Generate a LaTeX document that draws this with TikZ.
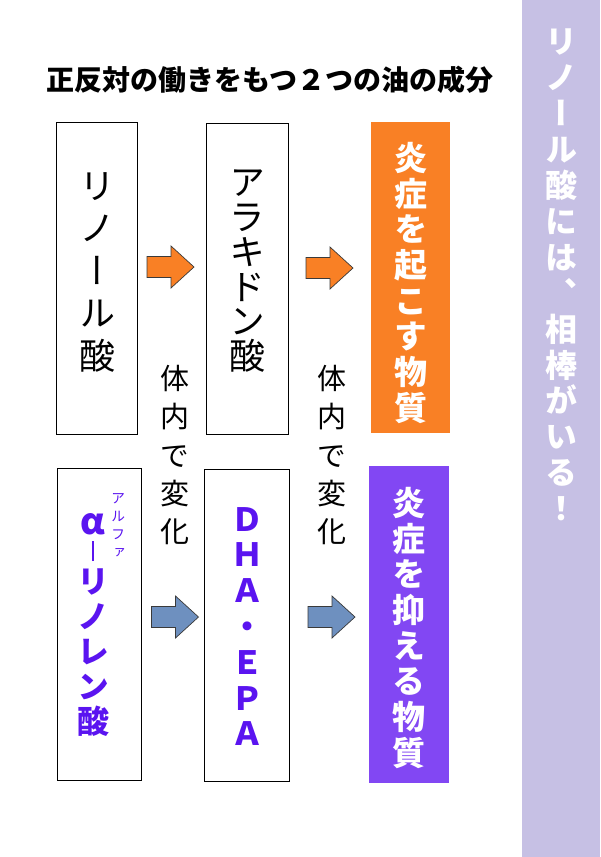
\documentclass[tikz,border=0pt]{standalone}
\usepackage{fontspec}
\newfontfamily\jp{Noto Sans CJK JP}
\newfontfamily\jpv[RawFeature=+vert]{Noto Sans CJK JP}
\definecolor{sidebar}{HTML}{C6C0E4}
\definecolor{orangefill}{HTML}{F98025}
\definecolor{purplefill}{HTML}{8247F3}
\definecolor{violettext}{HTML}{5A14F0}
\definecolor{bluefill}{HTML}{6E90BF}
\definecolor{arrowline}{HTML}{3A3A3A}
\tikzset{
  x=1pt, y=-1pt,
  box/.style={draw=black, line width=0.9pt, inner sep=0pt},
  vtext/.style={align=center, inner sep=0pt, anchor=north},
  blockarrow/.pic={\path[pic actions] (-23.5,-10.5) -- (0.5,-10.5) -- (0.5,-21) -- (23.5,0) -- (0.5,21) -- (0.5,10.5) -- (-23.5,10.5) -- cycle;},
  orangearrow/.style={fill=orangefill, draw=arrowline, line width=0.7pt},
  bluearrow/.style={fill=bluefill, draw=arrowline, line width=0.7pt}
}
\begin{document}
\begin{tikzpicture}
\useasboundingbox (0,0) rectangle (600,857);
\fill[white] (0,0) rectangle (600,857);
% sidebar
\fill[sidebar] (522,0) rectangle (600,857);
\node[vtext, text=white, font={\jpv\bfseries\fontsize{32pt}{35.9pt}\selectfont}] (side) at (561,29)
  {リ\\ノ\\ー\\ル\\酸\\に\\は\\、\\相\\棒\\が\\い\\る\\！};
% title
\node[inner sep=0pt, font={\jp\bfseries\fontsize{28pt}{30pt}\selectfont}] (title) at (270,80) {正反対の働きをもつ２つの油の成分};
% top row boxes
\node[box, minimum width=81pt, minimum height=312pt] (b1) at (97,278) {};
\node[box, minimum width=82pt, minimum height=311pt] (b2) at (247,278.5) {};
\node[fill=orangefill, inner sep=0pt, minimum width=79pt, minimum height=311pt] (b3) at (410.5,277.5) {};
% bottom row boxes
\node[box, minimum width=84pt, minimum height=312pt] (c1) at (99,624) {};
\node[box, minimum width=85pt, minimum height=312pt] (c2) at (246.5,625) {};
\node[fill=purplefill, inner sep=0pt, minimum width=80pt, minimum height=317pt] (c3) at (409,624.5) {};
% texts top
\node[vtext, font={\jpv\fontsize{36pt}{42.5pt}\selectfont}] (t1) at (97,172) {リ\\ノ\\ー\\ル\\酸};
\node[vtext, font={\jpv\fontsize{36pt}{34.7pt}\selectfont}] (t2) at (247,170) {ア\\ラ\\キ\\ド\\ン\\酸};
\node[vtext, text=white, font={\jpv\bfseries\fontsize{33pt}{35.7pt}\selectfont}] (t3) at (410.5,142) {炎\\症\\を\\起\\こ\\す\\物\\質};
% texts bottom
\node[vtext, text=violettext, font={\jpv\bfseries\fontsize{32pt}{35pt}\selectfont}] (u1) at (93,513)
  {{\fontsize{36pt}{35pt}\selectfont α}\\[-8pt]\rule{2.6pt}{20pt}\\[-3pt]リ\\ノ\\レ\\ン\\酸};
\node[vtext, text=violettext, font={\jpv\fontsize{14pt}{18pt}\selectfont}] (ruby) at (118,493) {ア\\ル\\フ\\ァ};
\node[vtext, text=violettext, font={\jpv\bfseries\fontsize{32pt}{35.8pt}\selectfont}] (u2) at (247,507) {Ｄ\\Ｈ\\Ａ\\・\\Ｅ\\Ｐ\\Ａ};
\node[vtext, text=white, font={\jpv\bfseries\fontsize{33pt}{35.7pt}\selectfont}] (u3) at (409,487) {炎\\症\\を\\抑\\え\\る\\物\\質};
% in-body change labels
\node[vtext, font={\jpv\fontsize{29pt}{38.3pt}\selectfont}] (k1) at (175,365) {体\\内\\で\\変\\化};
\node[vtext, font={\jpv\fontsize{29pt}{38.3pt}\selectfont}] (k2) at (332,365) {体\\内\\で\\変\\化};
% arrows
\pic[orangearrow] (oa1) at (170.5,267) {blockarrow};
\pic[orangearrow] (oa2) at (329.5,268) {blockarrow};
\pic[bluearrow] (ba1) at (175,617) {blockarrow};
\pic[bluearrow] (ba2) at (331.5,617) {blockarrow};
\end{tikzpicture}
\end{document}
